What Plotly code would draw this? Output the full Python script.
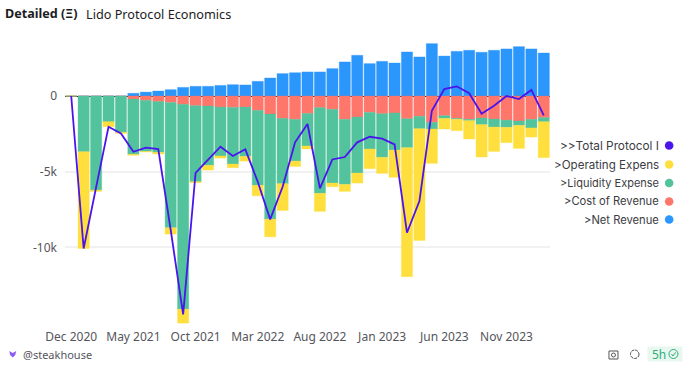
import plotly.graph_objects as go

months = ["Dec 2020","Jan 2021","Feb 2021","Mar 2021","Apr 2021","May 2021","Jun 2021","Jul 2021","Aug 2021","Sep 2021",
          "Oct 2021","Nov 2021","Dec 2021","Jan 2022","Feb 2022","Mar 2022","Apr 2022","May 2022","Jun 2022","Jul 2022",
          "Aug 2022","Sep 2022","Oct 2022","Nov 2022","Dec 2022","Jan 2023","Feb 2023","Mar 2023","Apr 2023","May 2023",
          "Jun 2023","Jul 2023","Aug 2023","Sep 2023","Oct 2023","Nov 2023","Dec 2023","Jan 2024","Feb 2024"]
# values in thousands
net_revenue = [0,0,0,0,0,.18,.26,.33,.42,.57,.64,.64,.70,.75,.73,.97,1.19,1.48,1.54,1.59,1.59,1.81,2.25,2.69,2.14,2.29,2.18,2.91,2.58,3.46,2.64,2.95,3.02,2.89,3.02,3.11,3.26,3.11,2.84]
cost_of_revenue = [0,0,0,0,0,-.2,-.29,-.37,-.42,-.55,-.64,-.66,-.73,-.75,-.73,-.95,-1.19,-1.48,-1.54,-1.15,-.77,-.88,-1.54,-1.39,-1.08,-1.17,-1.12,-1.50,-1.34,-1.74,-1.30,-1.48,-1.54,-1.45,-1.52,-1.59,-1.65,-1.54,-1.43]
liquidity_expense = [0,-3.68,-6.21,-1.70,-2.40,-3.65,-3.37,-3.35,-8.28,-13.52,-5.02,-3.92,-3.23,-3.74,-3.26,-4.95,-6.94,-4.31,-2.76,-2.15,-5.66,-4.87,-4.30,-3.70,-2.42,-2.88,-2.45,-1.91,-.82,-.44,-.18,-.06,-.09,-.44,-.53,-.48,-.29,-.57,-.27]
operating_expense = [0,-6.39,-.09,-.33,-.07,-.07,-.04,-.11,-.42,-.93,-.07,-.31,-.14,-.25,-.31,-.69,-1.17,-1.77,-.35,-.20,-1.19,-.24,-.46,-.66,-1.30,-1.06,-1.80,-8.53,-7.38,-2.27,-.70,-.75,-1.21,-2.14,-1.61,-1.01,-1.52,-.60,-2.37]
total_income = [0,-10.07,-6.03,-2.03,-2.47,-3.68,-3.41,-3.50,-8.85,-14.43,-5.07,-4.23,-3.35,-3.96,-3.52,-5.66,-8.15,-5.99,-3.06,-1.85,-6.10,-4.19,-4.03,-3.06,-2.69,-2.82,-3.19,-9.03,-6.94,-.97,.46,.64,.18,-1.17,-.64,0,-.2,.4,-1.28]

y_ticks = [0, -5, -10]
y_labels = ["0", "-5k", "-10k"]

BLUE, RED, GREEN, YELLOW, PURPLE = "#2b96fc", "#ff766b", "#52c39c", "#ffdf3d", "#4a14ee"
W, H = 690, 368
L, R, T, B = 65.3, 139.5, 40, 38
PW, PH = W - L - R, H - T - B
px = lambda x: (x - L) / PW
py = lambda y: 1 - (y - T) / PH

def bar(vals, color, edge, name):
    return go.Bar(x=months, y=vals, name=name, marker=dict(color=color, line=dict(color=edge, width=1)))

fig = go.Figure()
fig.add_trace(bar(net_revenue, BLUE, "rgba(43,150,252,.35)", ">Net Revenue"))
fig.add_trace(bar(cost_of_revenue, RED, "rgba(255,118,107,.35)", ">Cost of Revenue"))
fig.add_trace(bar(liquidity_expense, GREEN, "rgba(82,195,156,.35)", ">Liquidity Expense"))
fig.add_trace(bar(operating_expense, YELLOW, "rgba(255,223,61,.35)", ">Operating Expense"))
fig.add_trace(go.Scatter(x=months, y=total_income, name=">>Total Protocol Income", mode="lines",
                         line=dict(color=PURPLE, width=1.8)))

notes, shapes = [], []
def text(x, y, s, anchor="left", size=12, color="#3c3c43", family="Inter", **kw):
    notes.append(dict(x=px(x), y=py(y), xref="paper", yref="paper", text=s, showarrow=False,
                      xanchor=anchor, yanchor="middle", font=dict(size=size, color=color, family=family),
                      borderpad=0, borderwidth=0, **kw))

text(5.5, 13.5, "<b>Detailed (Ξ)</b>", size=12.6, color="#1d1d22", family="Noto Sans")
text(86, 13.5, "Lido Protocol Economics", size=12.7, color="#1d1d22", family="Noto Sans")

# legend names as they are shown, cut at a fixed width
legend_rows = [(145.5, ">>Total Protocol I", PURPLE, 11.8), (164.5, ">Operating Expens", YELLOW, 11.6),
               (183, ">Liquidity Expense", GREEN, 11.0), (201.5, ">Cost of Revenue", RED, 11.2),
               (219.5, ">Net Revenue", BLUE, 11.2)]
for y, s, c, size in legend_rows:
    shapes.append(dict(type="circle", xref="paper", yref="paper", x0=px(665.4), x1=px(674), y0=py(y + 4.3), y1=py(y - 4.3),
                       fillcolor=c, line=dict(width=0)))
    text(660, y, s, anchor="right", size=size)

# footer
text(23, 354, "@steakhouse", size=11, color="#55555c", family="Noto Sans")
shapes.append(dict(type="path", xref="paper", yref="paper",
                   path=f"M {px(9.5)} {py(351)} L {px(13)} {py(353)} L {px(16.5)} {py(351)} L {px(15.5)} {py(355)} L {px(13)} {py(357.5)} L {px(10.5)} {py(355)} Z",
                   fillcolor="#8a5cf0", line=dict(width=0)))
# camera icon
shapes.append(dict(type="rect", xref="paper", yref="paper", x0=px(609.5), x1=px(618.5), y0=py(359), y1=py(351),
                   fillcolor="rgba(0,0,0,0)", line=dict(color="#555", width=1)))
shapes.append(dict(type="circle", xref="paper", yref="paper", x0=px(612), x1=px(616), y0=py(357), y1=py(353),
                   fillcolor="rgba(0,0,0,0)", line=dict(color="#555", width=1)))
# reload icon
shapes.append(dict(type="circle", xref="paper", yref="paper", x0=px(631), x1=px(639.5), y0=py(358.5), y1=py(350),
                   fillcolor="rgba(0,0,0,0)", line=dict(color="#444", width=1, dash="3px,1px")))
# pill
shapes.append(dict(type="rect", xref="paper", yref="paper", x0=px(648), x1=px(683), y0=py(361.5), y1=py(346.5),
                   fillcolor="#e8f7f0", line=dict(width=0)))
text(652.5, 354, "5h", size=12, color="#2fae78", family="Noto Sans")
shapes.append(dict(type="circle", xref="paper", yref="paper", x0=px(669.5), x1=px(678.5), y0=py(358.5), y1=py(349.5),
                   fillcolor="rgba(0,0,0,0)", line=dict(color="#2fae78", width=1)))
shapes.append(dict(type="path", xref="paper", yref="paper",
                   path=f"M {px(672)} {py(354)} L {px(673.5)} {py(356)} L {px(676.2)} {py(352.3)}",
                   line=dict(color="#2fae78", width=1)))

fig.update_layout(
    width=W, height=H, autosize=False, margin=dict(l=L, r=R, t=T, b=B, pad=0),
    barmode="relative", bargap=0.1, showlegend=False,
    paper_bgcolor="white", plot_bgcolor="white",
    font=dict(family="Noto Sans", size=12, color="#55555c"),
    annotations=notes, shapes=shapes,
    xaxis=dict(type="category", categoryorder="array", categoryarray=months, range=[-0.5, 38.5],
               tickmode="array", tickvals=months[::5], ticktext=months[::5], showgrid=False, zeroline=False,
               ticks="", showline=False, tickfont=dict(size=12, color="#55555c"), ticklabelstandoff=-2),
    yaxis=dict(range=[-15.455, 3.70], tickmode="array", tickvals=y_ticks, ticktext=y_labels,
               showgrid=True, gridcolor="#f1f1f1", gridwidth=1.5, zeroline=True, zerolinecolor="#222", zerolinewidth=1,
               ticks="", showline=False, tickfont=dict(size=12, color="#55555c"), ticklabelstandoff=7),
)
fig.write_html("out.html", config={"displayModeBar": False},
               post_script="document.body.style.margin='0';document.documentElement.style.overflow='hidden';")
